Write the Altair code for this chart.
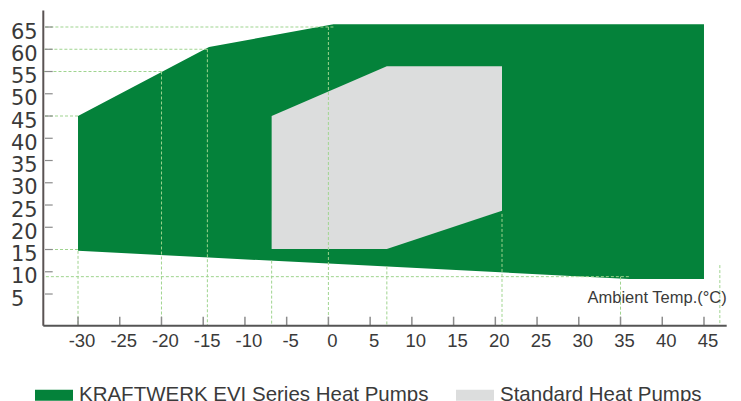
import altair as alt
import pandas as pd

# ---- data ----
series_names = ["KRAFTWERK EVI Series Heat Pumps", "Standard Heat Pumps"]
series_colors = ["#04823A", "#DCDDDD"]

evi_temp = [-30, -14.3, 0.6, 36, 45]
evi_upper = [45, 60.5, 65.6, 65.6, 65.6]
evi_lower = [14.7, 13.2, 11.8, 8.4, 8.4]

std_temp = [-6.8, 7.0, 20.8]
std_upper = [45, 56.2, 56.2]
std_lower = [15.1, 15.1, 23.7]

x_ticks = [-30, -25, -20, -15, -10, -5, 0, 5, 10, 15, 20, 25, 30, 35, 40, 45]
x_labels = [str(v) for v in x_ticks]
y_ticks = [5, 10, 15, 20, 25, 30, 35, 40, 45, 50, 55, 60, 65]
y_labels = [str(v) for v in y_ticks]

guide_h_value = [65, 60, 55, 45, 15, 8.9]
guide_h_end = [0.6, -14.5, -20, -30, -30, 36]
guide_v_temp = [-30, -20, -14.5, -6.8, 0, 7, 20.8, 35, 46.9]
guide_v_end = [14.7, 55, 60, 12.5, 65, 11.2, 23, 8.9, 11.5]

x_title = "Ambient Temp.(°C)"

# ---- layout ----
W = 683.4
H = 315.2
GUIDE = "#9fd48f"
TEXT = "#3a3a3a"

xs = alt.Scale(domain=[-34.16, 47.72], nice=False, zero=False)
ys = alt.Scale(domain=[-2.12, 68.71], nice=False, zero=False)
cs = alt.Scale(domain=series_names, range=series_colors)

df_evi = pd.DataFrame({"temp": evi_temp, "upper": evi_upper, "lower": evi_lower,
                       "series": series_names[0]})
df_std = pd.DataFrame({"temp": std_temp, "upper": std_upper, "lower": std_lower,
                       "series": series_names[1]})
df_h = pd.DataFrame({"value": guide_h_value, "end": guide_h_end})
df_v = pd.DataFrame({"temp": guide_v_temp, "end": guide_v_end})
df_xt = pd.DataFrame({"tick": x_ticks, "label": x_labels})
df_yt = pd.DataFrame({"tick": y_ticks, "label": y_labels})
one = alt.Data(values=[{"a": 1}])

legend = alt.Legend(
    title=None, orient="none", direction="horizontal",
    legendX=-8.3, legendY=365.5,
    symbolType="M-1,-0.29H1V0.29H-1Z", symbolSize=1444,
    symbolStrokeWidth=0, symbolOpacity=1,
    labelFont="Liberation Sans", labelFontSize=20.5, labelColor=TEXT,
    labelOffset=6, columnPadding=27, labelLimit=600, padding=0,
)

area_evi = alt.Chart(df_evi).mark_area(opacity=1).encode(
    x=alt.X("temp:Q", scale=xs, axis=None),
    y=alt.Y("upper:Q", scale=ys, axis=None, stack=None),
    y2="lower:Q",
    color=alt.Color("series:N", scale=cs, legend=legend),
)
area_std = alt.Chart(df_std).mark_area(opacity=1).encode(
    x=alt.X("temp:Q", scale=xs, axis=None),
    y=alt.Y("upper:Q", scale=ys, axis=None, stack=None),
    y2="lower:Q",
    color=alt.Color("series:N", scale=cs, legend=legend),
)

h_guides = alt.Chart(df_h).mark_rule(color=GUIDE, strokeWidth=1, strokeDash=[3, 2]).encode(
    y=alt.Y("value:Q", scale=ys, axis=None),
    x=alt.X("end:Q", scale=xs, axis=None),
    x2=alt.value(0),
)
v_guides = alt.Chart(df_v).mark_rule(color=GUIDE, strokeWidth=1, strokeDash=[3, 2]).encode(
    x=alt.X("temp:Q", scale=xs, axis=None),
    y=alt.Y("end:Q", scale=ys, axis=None),
    y2=alt.value(H),
)

x_tick_marks = alt.Chart(df_xt).mark_rule(color="#8c8c8c", strokeWidth=1.5).encode(
    x=alt.X("tick:Q", scale=xs, axis=None),
    y=alt.value(H - 9),
    y2=alt.value(H),
)
y_tick_marks = alt.Chart(df_yt).mark_rule(color="#8c8c8c", strokeWidth=1.2).encode(
    y=alt.Y("tick:Q", scale=ys, axis=None),
    x=alt.value(1.7),
    x2=alt.value(9.4),
)

y_axis_line = alt.Chart(one).mark_rule(color="#5a5353", strokeWidth=2).encode(
    x=alt.value(0), y=alt.value(0), y2=alt.value(H),
)
x_axis_line = alt.Chart(one).mark_rule(color="#555555", strokeWidth=2).encode(
    y=alt.value(H), x=alt.value(0), x2=alt.value(W),
)

x_text = alt.Chart(df_xt).mark_text(
    font="Liberation Sans", fontSize=18.5, color=TEXT, align="center",
    baseline="alphabetic", dx=4,
).encode(
    x=alt.X("tick:Q", scale=xs, axis=None),
    y=alt.value(336.5),
    text="label:N",
)
y_text = alt.Chart(df_yt).mark_text(
    font="DejaVu Sans", fontSize=21, color=TEXT, align="left",
    baseline="alphabetic", dy=11.5,
).encode(
    y=alt.Y("tick:Q", scale=ys, axis=None),
    x=alt.value(-32.3),
    text="label:N",
)
title_text = alt.Chart(one).mark_text(
    font="Liberation Sans", fontSize=16.5, color=TEXT, align="right",
    baseline="alphabetic", text=x_title,
).encode(
    x=alt.value(W),
    y=alt.value(292.2),
)

chart = alt.layer(
    area_evi, area_std, h_guides, v_guides, x_tick_marks, y_tick_marks,
    y_axis_line, x_axis_line, x_text, y_text, title_text,
).properties(
    width=W, height=H,
    padding={"left": 35.3, "top": 2.5, "right": 6, "bottom": 75.3},
    autosize=alt.AutoSizeParams(type="none"),
).configure_view(stroke=None)

chart.save("out.html", embed_options={"renderer": "svg", "actions": False})
